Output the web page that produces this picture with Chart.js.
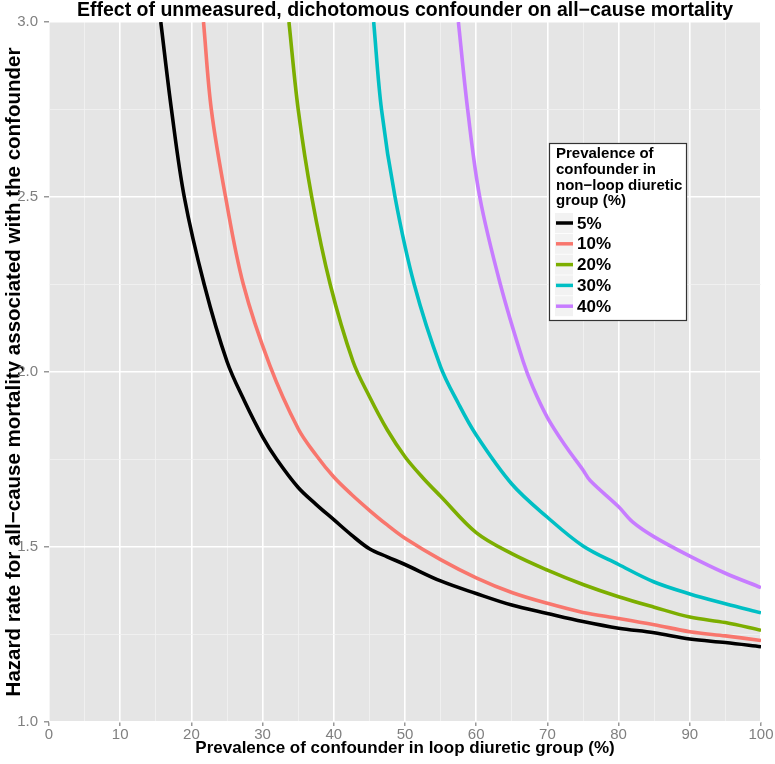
<!DOCTYPE html>
<html>
<head>
<meta charset="utf-8">
<script src="https://cdn.jsdelivr.net/npm/chart.js@4.4.1/dist/chart.umd.min.js"></script>
<style>
html, body { margin: 0; padding: 0; background: #ffffff; }
</style>
</head>
<body>
<canvas id="plot" width="775" height="764"></canvas>
<script>
// prevalence of confounder in non-loop diuretic group
const groups = ['5%', '10%', '20%', '30%', '40%'];

// x = prevalence in loop diuretic group (%), hr = hazard rate of confounder
const x5 = [15.7, 17.2, 19.0, 21.8, 25.0, 27.5, 30, 32.0, 35, 37.5, 40, 42.5, 45, 47.5, 50, 55, 60, 65, 70, 75, 80, 85, 90, 95, 100];
const hr5 = [3.0, 2.75, 2.5, 2.25, 2.03, 1.915, 1.815, 1.75, 1.67, 1.622, 1.578, 1.534, 1.495, 1.472, 1.450, 1.403, 1.367, 1.334, 1.310, 1.287, 1.268, 1.255, 1.237, 1.227, 1.215];

const x10 = [21.7, 22.8, 24.8, 27.3, 31.0, 35, 37.5, 40, 42.5, 45, 47.5, 50, 55, 60, 65, 70, 75, 80, 85, 90, 95, 100];
const hr10 = [3.0, 2.75, 2.5, 2.25, 2.02, 1.838, 1.763, 1.70, 1.65, 1.605, 1.563, 1.525, 1.464, 1.412, 1.37, 1.339, 1.313, 1.296, 1.278, 1.258, 1.246, 1.233];

const x20 = [33.7, 35.0, 36.9, 39.5, 42.7, 45, 47.5, 50, 52.5, 55, 60, 65, 70, 75, 80, 85, 90, 95, 100];
const hr20 = [3.0, 2.75, 2.5, 2.25, 2.03, 1.93, 1.835, 1.758, 1.698, 1.645, 1.541, 1.481, 1.434, 1.393, 1.358, 1.328, 1.300, 1.284, 1.262];

const x30 = [45.6, 46.7, 48.6, 51.3, 55, 57.5, 60, 65, 70, 75, 80, 85, 90, 95, 100];
const hr30 = [3.0, 2.75, 2.5, 2.25, 2.015, 1.91, 1.82, 1.68, 1.585, 1.503, 1.45, 1.40, 1.366, 1.338, 1.312];

const x40 = [57.5, 58.8, 60.5, 63.4, 66.6, 68, 70, 72.5, 75, 76, 80, 82, 85, 90, 95, 100];
const hr40 = [3.0, 2.75, 2.5, 2.25, 2.03, 1.955, 1.87, 1.79, 1.72, 1.69, 1.615, 1.571, 1.529, 1.474, 1.425, 1.384];

const xs = [x5, x10, x20, x30, x40];
const hrs = [hr5, hr10, hr20, hr30, hr40];
const colors = ['#000000', '#F8766D', '#7CAE00', '#00BFC4', '#C77CFF'];

const legendTitle = ['Prevalence of', 'confounder in', 'non\u2212loop diuretic', 'group (%)'];

const FONT = '"Liberation Sans", Arial, sans-serif';
Chart.defaults.font.family = FONT;

const panelBg = {
    id: 'panelBg',
    beforeDraw(chart) {
        const {ctx, chartArea: a} = chart;
        ctx.save();
        ctx.fillStyle = '#e5e5e5';
        ctx.fillRect(a.left, a.top, a.right - a.left, a.bottom - a.top);
        ctx.restore();
    }
};

// ggplot style legend box inside the panel
const boxLegend = {
    id: 'boxLegend',
    afterDraw(chart) {
        const ctx = chart.ctx;
        ctx.save();
        ctx.fillStyle = '#ffffff';
        ctx.fillRect(549, 143, 138, 178);
        ctx.strokeStyle = '#333333';
        ctx.lineWidth = 1.2;
        ctx.strokeRect(549.5, 143.5, 137, 177);
        ctx.fillStyle = '#000000';
        ctx.textBaseline = 'middle';
        ctx.font = 'bold 15px ' + FONT;
        legendTitle.forEach((t, i) => ctx.fillText(t, 556, 154 + i * 15.7));
        chart.data.datasets.forEach((ds, i) => {
            const cy = 223 + i * 20.8;
            ctx.fillStyle = '#f2f2f2';
            ctx.fillRect(555, cy - 10, 18, 20);
            ctx.strokeStyle = ds.borderColor;
            ctx.lineWidth = 3.5;
            ctx.beginPath();
            ctx.moveTo(556, cy);
            ctx.lineTo(573, cy);
            ctx.stroke();
            ctx.fillStyle = '#000000';
            ctx.font = 'bold 17px ' + FONT;
            ctx.fillText(ds.label, 577, cy + 1);
        });
        ctx.restore();
    }
};

const datasets = groups.map((g, i) => ({
    label: g,
    data: xs[i].map((x, j) => ({x: x, y: hrs[i][j]})),
    borderColor: colors[i],
    backgroundColor: colors[i],
    borderWidth: 3.6,
    pointRadius: 0,
    tension: 0.35,
    fill: false,
    clip: 0
}));

const ctx = document.getElementById('plot').getContext('2d');
const myChart = new Chart(ctx, {
    type: 'line',
    data: { datasets: datasets },
    options: {
        responsive: false,
        animation: false,
        layout: { padding: { left: 0, right: 14, top: 0, bottom: 0 } },
        plugins: {
            legend: { display: false },
            tooltip: { enabled: false },
            title: {
                display: true,
                fullSize: false,
                text: 'Effect of unmeasured, dichotomous confounder on all\u2212cause mortality',
                color: '#000000',
                font: { size: 19.5, weight: 'bold', lineHeight: 1.13 },
                padding: { top: 0, bottom: 0 }
            }
        },
        scales: {
            x: {
                type: 'linear',
                min: 0,
                max: 100,
                afterFit(scale) { scale.height = 42; },
                border: { display: false },
                grid: {
                    color: c => (c.tick.value % 10 === 0 ? '#ffffff' : '#f2f2f2'),
                    lineWidth: c => (c.tick.value % 10 === 0 ? 1.6 : 0.8),
                    tickColor: c => (c.tick.value % 10 === 0 ? '#7f7f7f' : 'rgba(0,0,0,0)'),
                    tickLength: 4,
                    tickWidth: 1.2
                },
                ticks: {
                    stepSize: 5,
                    autoSkip: false,
                    maxRotation: 0,
                    padding: 0,
                    color: '#7f7f7f',
                    font: { size: 15 },
                    callback: v => (v % 10 === 0 ? String(v) : '')
                },
                title: {
                    display: true,
                    text: 'Prevalence of confounder in loop diuretic group (%)',
                    color: '#000000',
                    font: { size: 17, weight: 'bold' },
                    padding: { top: 0, bottom: 5 }
                }
            },
            y: {
                min: 1,
                max: 3,
                afterFit(scale) { scale.width = 49; },
                border: { display: false },
                grid: {
                    color: c => (c.tick.value % 0.5 === 0 ? '#ffffff' : '#f2f2f2'),
                    lineWidth: c => (c.tick.value % 0.5 === 0 ? 1.6 : 0.8),
                    tickColor: c => (c.tick.value % 0.5 === 0 ? '#7f7f7f' : 'rgba(0,0,0,0)'),
                    tickLength: 5,
                    tickWidth: 1.2
                },
                ticks: {
                    stepSize: 0.25,
                    autoSkip: false,
                    padding: 6,
                    color: '#7f7f7f',
                    font: { size: 15 },
                    callback: v => (v % 0.5 === 0 ? v.toFixed(1) : '')
                },
                title: {
                    display: true,
                    text: 'Hazard rate for all\u2212cause mortality associated with the confounder',
                    color: '#000000',
                    font: { size: 20.5, weight: 'bold' },
                    padding: { top: 2, bottom: 0 }
                }
            }
        }
    },
    plugins: [panelBg, boxLegend]
});
</script>
</body>
</html>
